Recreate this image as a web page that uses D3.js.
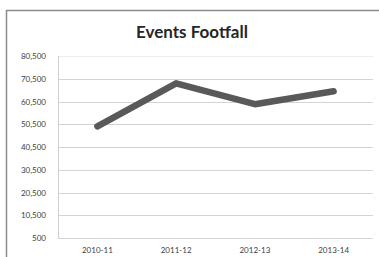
<!DOCTYPE html>
<html>
<head>
<meta charset="utf-8">
<script src="https://cdn.jsdelivr.net/npm/d3@7"></script>
<style>
  body { margin: 0; background: #fff; }
  svg { display: block; font-family: Lato, "Open Sans", sans-serif; }
</style>
</head>
<body>
<div id="chart"></div>
<script>
const W = 379, H = 257;

// data
const seasons = ["2010-11", "2011-12", "2012-13", "2013-14"];
const footfall = [49600, 68500, 59300, 65000];
const yTicks = [500, 10500, 20500, 30500, 40500, 50500, 60500, 70500, 80500];

const margin = { top: 56, right: 6, bottom: 19, left: 58 };

let svg = d3.select("#chart").append("svg")
  .attr("width", W).attr("height", H);

// chart frame
svg.append("rect")
  .attr("x", 6.5).attr("y", 10.5)
  .attr("width", W + 10).attr("height", H + 10)
  .attr("fill", "none")
  .attr("stroke", "#8c8c8c")
  .attr("stroke-width", 1.5);

svg.append("text")
  .attr("x", 192).attr("y", 38)
  .attr("text-anchor", "middle")
  .attr("font-size", 17)
  .attr("font-weight", "bold")
  .attr("fill", "#262626")
  .text("Events Footfall");

let x = d3.scaleBand()
  .domain(seasons)
  .range([margin.left, W - margin.right]);

let y = d3.scaleLinear()
  .domain([500, 80500])
  .range([H - margin.bottom, margin.top]);

// gridlines
svg.append("g")
  .selectAll("line")
  .data(yTicks)
  .join("line")
  .attr("x1", margin.left).attr("x2", W - margin.right)
  .attr("y1", d => Math.round(y(d)) + 0.5)
  .attr("y2", d => Math.round(y(d)) + 0.5)
  .attr("stroke", d => d == 80500 ? "#ececec" : "#d4d4d4");

// left axis line
svg.append("line")
  .attr("x1", margin.left + 0.5).attr("x2", margin.left + 0.5)
  .attr("y1", margin.top).attr("y2", H - margin.bottom)
  .attr("stroke", "#cfcfcf");

// y labels
svg.append("g")
  .selectAll("text")
  .data(yTicks)
  .join("text")
  .attr("x", 46)
  .attr("y", d => y(d) + 3)
  .attr("text-anchor", "end")
  .attr("font-size", 8)
  .attr("fill", "#404040")
  .text(d => d3.format(",")(d));

// x labels
svg.append("g")
  .selectAll("text")
  .data(seasons)
  .join("text")
  .attr("x", d => x(d) + x.bandwidth() / 2)
  .attr("y", 253)
  .attr("text-anchor", "middle")
  .attr("font-size", 8)
  .attr("fill", "#404040")
  .text(d => d);

let line = d3.line()
  .x((d, i) => x(seasons[i]) + x.bandwidth() / 2)
  .y(d => y(d));

svg.append("path")
  .datum(footfall)
  .attr("d", line)
  .attr("fill", "none")
  .attr("stroke", "#595959")
  .attr("stroke-width", 6.5)
  .attr("stroke-linecap", "round")
  .attr("stroke-linejoin", "round");
</script>
</body>
</html>
